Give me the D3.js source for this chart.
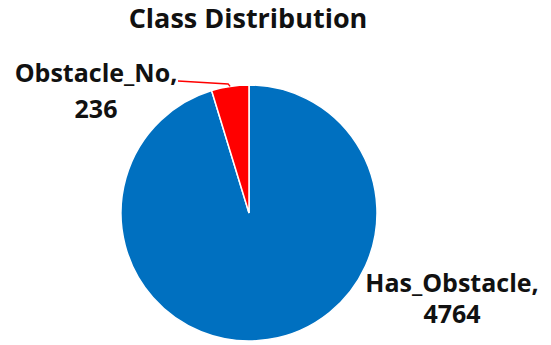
<!DOCTYPE html>
<html>
<head>
<meta charset="utf-8">
<script src="https://cdn.jsdelivr.net/npm/d3@7"></script>
<style>
  html, body { margin: 0; padding: 0; background: #fff; }
  svg { display: block; }
  text { font-family: "Open Sans", "Noto Sans", sans-serif; font-weight: 700; fill: #111; }
</style>
</head>
<body>
<svg id="chart" width="551" height="345"></svg>
<script>
// Class counts
const categories = ["Has_Obstacle", "Obstacle_No"];
const counts = [4764, 236];
const colors = ["#0070C0", "#FF0000"];
const title = "Class Distribution";

const width = 551, height = 345;
const cx = 249, cy = 213, radius = 128;

const svg = d3.select("#chart");

svg.append("text")
  .attr("x", 248)
  .attr("y", 28)
  .attr("text-anchor", "middle")
  .attr("font-size", 27)
  .text(title);

const data = categories.map((c, i) => ({ name: c, value: counts[i], color: colors[i] }));

// First slice starts at 12 o'clock and runs clockwise; the small one ends back at the top
const pie = d3.pie().sort(null).value(d => d.value).startAngle(0).endAngle(2 * Math.PI);
const arcs = pie(data);
const arc = d3.arc().innerRadius(0).outerRadius(radius);

const g = svg.append("g").attr("transform", `translate(${cx},${cy})`);

g.selectAll("path.slice")
  .data(arcs)
  .join("path")
  .attr("class", "slice")
  .attr("d", arc)
  .attr("fill", d => d.data.color)
  .attr("stroke", "#fff")
  .attr("stroke-width", 1.5);

// Leader line from the small slice to its label
const small = arcs[1];
const mid = (small.startAngle + small.endAngle) / 2;
const edge = [radius * Math.sin(mid), -radius * Math.cos(mid)];
const elbow = [edge[0] - 2, edge[1] - 2.5];
const labelEnd = [178 - cx, 81 - cy];
g.append("polyline")
  .attr("points", [edge, elbow, labelEnd].map(p => p.join(",")).join(" "))
  .attr("fill", "none")
  .attr("stroke", colors[1])
  .attr("stroke-width", 1.5);

// Data labels
const fmt = d3.format("d");
svg.append("text").attr("x", 96).attr("y", 82).attr("text-anchor", "middle").attr("font-size", 25)
  .text(categories[1] + ",");
svg.append("text").attr("x", 96).attr("y", 118).attr("text-anchor", "middle").attr("font-size", 25)
  .text(fmt(counts[1]));

svg.append("text").attr("x", 452).attr("y", 292).attr("text-anchor", "middle").attr("font-size", 25)
  .text(categories[0] + ",");
svg.append("text").attr("x", 452).attr("y", 323).attr("text-anchor", "middle").attr("font-size", 25)
  .text(fmt(counts[0]));
</script>
</body>
</html>
